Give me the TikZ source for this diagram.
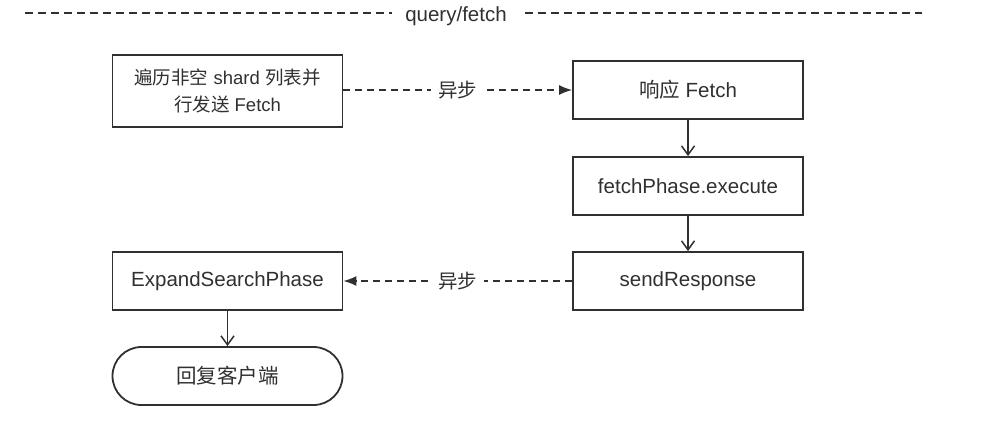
\documentclass[tikz,border=0pt]{standalone}
\usepackage{fontspec}
\setmainfont{Liberation Sans}
\newfontfamily\cjk{Noto Sans CJK SC}
\usetikzlibrary{arrows.meta}
\definecolor{ink}{HTML}{303030}
\tikzset{
  box/.style={draw=ink, line width=1.8pt, minimum width=230pt, minimum height=58pt, align=center, text=ink, font=\fontsize{20.5}{28}\selectfont, inner sep=0pt},
  stadium/.style={box, rounded corners=29pt},
  flow/.style={draw=ink, line width=1.5pt, -{Straight Barb[length=9pt,width=13pt,line width=1.5pt]}},
  asyncline/.style={draw=ink, line width=1.5pt, dash pattern=on 7pt off 5pt},
  async/.style={asyncline, -{Latex[length=13pt,width=10pt]}},
  lbl/.style={fill=white, text=ink, font=\fontsize{19.5}{22}\selectfont, inner sep=7pt},
}
\begin{document}
\begin{tikzpicture}[x=1pt,y=-1pt]
\useasboundingbox (0,0) rectangle (984,421);
% header
\node[text=ink, font=\fontsize{20.5}{22}\selectfont, inner sep=0pt, anchor=base] (hdr) at (456,21) {query/fetch};
\coordinate (hl) at (25,13);
\coordinate (hr) at (922,13);
\coordinate (hm1) at (392,13);
\coordinate (hm2) at (525,13);
\draw[ink, line width=2pt, dash pattern=on 8pt off 5pt] (hl) -- (hm1);
\draw[ink, line width=2pt, dash pattern=on 8pt off 5pt] (hm2) -- (hr);
% nodes
\node[box, minimum width=230pt, minimum height=72pt, font=\fontsize{18.5}{27}\selectfont] (a) at (227.5,91) {{\cjk 遍历非空} shard {\cjk 列表并}\\{\cjk 行发送} Fetch};
\node[box] (b) at (688,90) {{\cjk 响应} Fetch};
\node[box] (c) at (688,186) {fetchPhase.execute};
\node[box] (d) at (688,281) {sendResponse};
\node[box] (e) at (227.5,281) {ExpandSearchPhase};
\node[stadium] (f) at (227.5,376) {\cjk 回复客户端};
% edges
\draw[async] (a.east |- b) -- node[lbl] {\cjk 异步} (b.west);
\draw[flow] (b) -- (c);
\draw[flow] (c) -- (d);
\draw[async] (d) -- node[lbl] {\cjk 异步} (e);
\draw[flow] (e) -- (f);
\end{tikzpicture}
\end{document}
